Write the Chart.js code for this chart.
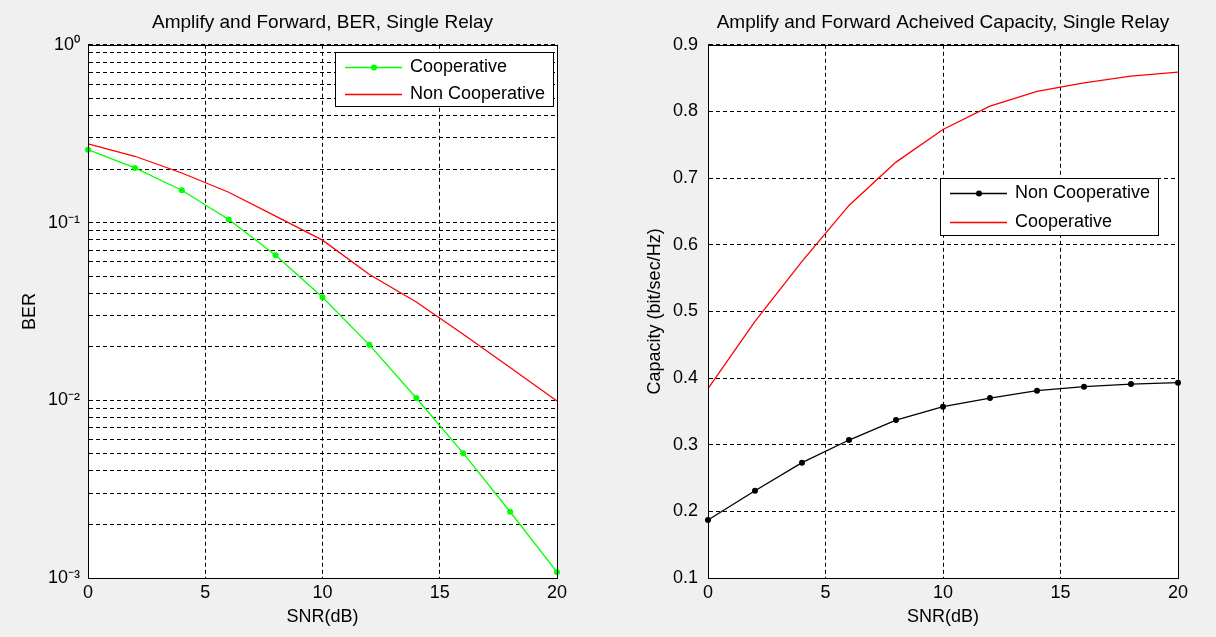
<!DOCTYPE html>
<html>
<head>
<meta charset="utf-8">
<script src="https://cdn.jsdelivr.net/npm/chart.js@4.4.1/dist/chart.umd.min.js"></script>
<style>
  html, body { margin: 0; padding: 0; background: #f0f0f0; }
  #wrap { position: relative; width: 1216px; height: 637px; }
  .pane { position: absolute; top: 0; width: 608px; height: 637px; }
</style>
</head>
<body>
<div id="wrap">
  <div class="pane" style="left:0"><canvas id="berChart" width="608" height="637"></canvas></div>
  <div class="pane" style="left:608px"><canvas id="capChart" width="608" height="637"></canvas></div>
</div>
<script>
// x axis: SNR in dB
const snr = [0, 2, 4, 6, 8, 10, 12, 14, 16, 18, 20];

// left plot: BER
const berCoop    = [0.257, 0.203, 0.152, 0.104, 0.0655, 0.038, 0.0205, 0.0103, 0.00504, 0.00236, 0.00108];
const berNonCoop = [0.277, 0.236, 0.19, 0.148, 0.1086, 0.0796, 0.051, 0.0357, 0.0235, 0.0153, 0.0099];

// right plot: capacity
const capNonCoop = [0.187, 0.231, 0.273, 0.307, 0.337, 0.357, 0.370, 0.381, 0.387, 0.391, 0.393];
const capCoop    = [0.384, 0.485, 0.575, 0.659, 0.724, 0.773, 0.808, 0.830, 0.843, 0.853, 0.859];

const berDecades = [-3, -2, -1, 0];
const capTicks = [0.1, 0.2, 0.3, 0.4, 0.5, 0.6, 0.7, 0.8, 0.9];

const FONT = '"Liberation Sans", Arial, sans-serif';
Chart.defaults.font.family = FONT;
Chart.defaults.font.size = 18;
Chart.defaults.color = '#000';

const sup = { '0': '\u2070', '1': '\u00b9', '2': '\u00b2', '3': '\u00b3', '-': '\u207b' };
const powLabel = (e) => '10' + String(e).split('').map(c => sup[c]).join('');

const pts = (ys) => snr.map((x, i) => ({ x, y: ys[i] }));

// white plot background + black box, matlab style
const plotFrame = {
  id: 'plotFrame',
  beforeDraw(chart) {
    const { ctx, chartArea: a } = chart;
    ctx.save();
    ctx.fillStyle = '#fff';
    ctx.fillRect(a.left, a.top, a.width, a.height);
    ctx.restore();
  },
  afterDatasetsDraw(chart) {
    const { ctx, chartArea: a } = chart;
    ctx.save();
    ctx.strokeStyle = '#000';
    ctx.lineWidth = 1;
    ctx.setLineDash([]);
    ctx.strokeRect(Math.round(a.left) + 0.5, Math.round(a.top) + 0.5, Math.round(a.width), Math.round(a.height));
    ctx.restore();
  }
};

// legend box drawn inside the axes
const innerLegend = {
  id: 'innerLegend',
  afterDraw(chart, args, opts) {
    const { ctx, chartArea: a } = chart;
    const x0 = Math.round(a.right - opts.right - opts.width);
    const y0 = Math.round(a.top + opts.top);
    ctx.save();
    ctx.setLineDash([]);
    ctx.fillStyle = '#fff';
    ctx.fillRect(x0, y0, opts.width, opts.height);
    ctx.strokeStyle = '#000';
    ctx.lineWidth = 1;
    ctx.strokeRect(x0 + 0.5, y0 + 0.5, opts.width, opts.height);
    ctx.font = '18px ' + FONT;
    ctx.textBaseline = 'middle';
    ctx.textAlign = 'left';
    chart.data.datasets.forEach((ds, i) => {
      const y = Math.round(y0 + opts.height * (2 * i + 1) / 4) + 1.5;
      ctx.strokeStyle = ds.borderColor;
      ctx.lineWidth = ds.borderWidth;
      ctx.beginPath();
      ctx.moveTo(x0 + 10, y);
      ctx.lineTo(x0 + 67, y);
      ctx.stroke();
      if (ds.pointRadius > 0) {
        ctx.fillStyle = ds.borderColor;
        ctx.beginPath();
        ctx.arc(x0 + 39, y, ds.pointRadius, 0, Math.PI * 2);
        ctx.fill();
      }
      ctx.fillStyle = '#000';
      ctx.fillText(ds.label, x0 + 75, y);
    });
    ctx.restore();
  }
};

const gridStyle = { color: '#000', lineWidth: 1, drawTicks: false };
const borderStyle = { color: '#000', dash: [4, 3] };

function xAxis() {
  return {
    type: 'linear', min: 0, max: 20,
    grid: gridStyle, border: borderStyle,
    ticks: { stepSize: 5, padding: 4 },
    title: { display: true, text: 'SNR(dB)', padding: { top: 0, bottom: 9 } },
    afterFit(scale) { scale.height = 59; }
  };
}

function titleOpts(text) {
  return { display: true, text, fullSize: false,
    font: { size: 19, weight: 'normal' }, padding: { top: 11, bottom: 11 } };
}

new Chart(document.getElementById('berChart'), {
  type: 'line',
  data: {
    datasets: [
      { label: 'Cooperative', data: pts(berCoop), borderColor: '#00ff00', backgroundColor: '#00ff00',
        borderWidth: 1.3, pointRadius: 3, pointBorderWidth: 0, clip: false },
      { label: 'Non Cooperative', data: pts(berNonCoop), borderColor: '#ff0000', backgroundColor: '#ff0000',
        borderWidth: 1.3, pointRadius: 0, clip: false }
    ]
  },
  options: {
    responsive: false, animation: false,
    layout: { padding: { left: 0, right: 51, top: 0, bottom: 0 } },
    elements: { line: { tension: 0 } },
    scales: {
      x: xAxis(),
      y: {
        type: 'logarithmic', min: 0.001, max: 1,
        grid: gridStyle, border: borderStyle,
        afterBuildTicks(scale) {
          const t = [];
          berDecades.forEach(e => {
            const top = e === 0 ? 1 : 9;
            for (let m = 1; m <= top; m++) t.push({ value: m * Math.pow(10, e) });
          });
          scale.ticks = t;
        },
        ticks: {
          autoSkip: false, padding: 8,
          callback(v) {
            const e = Math.log10(v);
            return Math.abs(e - Math.round(e)) < 1e-9 ? powLabel(Math.round(e)) : '';
          }
        },
        title: { display: true, text: 'BER', padding: { top: 19, bottom: 0 } },
        afterFit(scale) { scale.width = 88; }
      }
    },
    plugins: {
      legend: { display: false },
      tooltip: { enabled: false },
      title: titleOpts('Amplify and Forward, BER, Single Relay'),
      innerLegend: { right: 4, top: 7, width: 218, height: 54 }
    }
  },
  plugins: [plotFrame, innerLegend]
});

new Chart(document.getElementById('capChart'), {
  type: 'line',
  data: {
    datasets: [
      { label: 'Non Cooperative', data: pts(capNonCoop), borderColor: '#000000', backgroundColor: '#000000',
        borderWidth: 1.3, pointRadius: 3, pointBorderWidth: 0, clip: false },
      { label: 'Cooperative', data: pts(capCoop), borderColor: '#ff0000', backgroundColor: '#ff0000',
        borderWidth: 1.3, pointRadius: 0, clip: false }
    ]
  },
  options: {
    responsive: false, animation: false,
    layout: { padding: { left: 0, right: 38, top: 0, bottom: 0 } },
    elements: { line: { tension: 0 } },
    scales: {
      x: xAxis(),
      y: {
        type: 'linear', min: 0.1, max: 0.9,
        grid: gridStyle, border: borderStyle,
        afterBuildTicks(scale) { scale.ticks = capTicks.map(v => ({ value: v })); },
        ticks: { autoSkip: false, padding: 10, callback: v => v.toFixed(1) },
        title: { display: true, text: 'Capacity (bit/sec/Hz)', padding: { top: 36, bottom: 0 } },
        afterFit(scale) { scale.width = 100; }
      }
    },
    plugins: {
      legend: { display: false },
      tooltip: { enabled: false },
      title: titleOpts('Amplify and Forward Acheived Capacity, Single Relay'),
      innerLegend: { right: 20, top: 133, width: 218, height: 57 }
    }
  },
  plugins: [plotFrame, innerLegend]
});
</script>
</body>
</html>
